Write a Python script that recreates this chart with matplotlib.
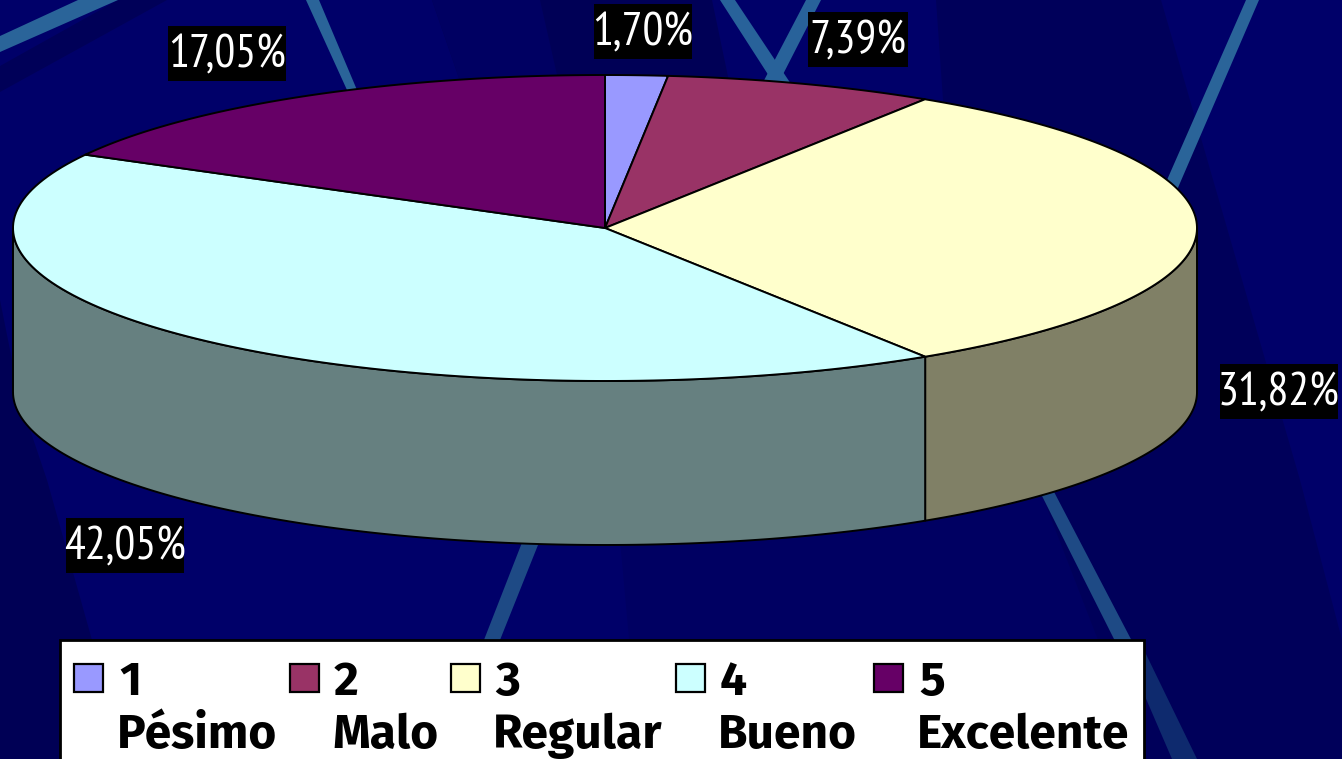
import warnings
import numpy as np
import matplotlib
matplotlib.use("Agg")
import matplotlib.pyplot as plt
from matplotlib.patches import Polygon, Rectangle

warnings.filterwarnings("ignore")

# --- data ---
categories = ["1\nPésimo", "2\nMalo", "3\nRegular", "4\nBueno", "5\nExcelente"]
values = [1.70, 7.39, 31.82, 42.05, 17.05]
value_labels = ["1,70%", "7,39%", "31,82%", "42,05%", "17,05%"]
colors = ["#9999FF", "#993366", "#FFFFCC", "#CCFFFF", "#660066"]
side_colors = ["#4C4C80", "#4D1A33", "#808066", "#668080", "#330033"]

# --- layout (pixels) ---
W, H = 1342, 759
cx, cy, rx, ry, depth = 605, 228, 592, 153, 164
label_boxes = [(594, 4, 98, 55), (808, 12, 100, 55), (1220, 364, 118, 55),
               (66, 518, 118, 55), (168, 26, 118, 55)]
legend_swatch_x = [74, 290, 451, 676, 874]
legend_text_x = [117, 332, 493, 718, 917]

fig = plt.figure(figsize=(W / 100, H / 100), dpi=100)
ax = fig.add_axes([0, 0, 1, 1])
ax.set_xlim(0, W)
ax.set_ylim(H, 0)
ax.axis("off")

# --- background ---
ax.add_patch(Rectangle((0, 0), W, H, fc="#000069", ec="none", zorder=0))
bg_regions = [
    ("#000056", [(432, 0), (712, 0), (735, 110), (470, 110)]),
    ("#00005A", [(936, 0), (1161, 0), (1300, 480), (1342, 640), (1342, 759), (1144, 759), (1000, 500), (950, 200)]),
    ("#000062", [(620, 540), (1040, 490), (1144, 759), (640, 759)]),
    ("#000055", [(0, 300), (20, 400), (47, 480), (92, 640), (60, 759), (0, 759)]),
    ("#000058", [(0, 66), (118, 0), (167, 0), (0, 92)]),
    ("#000062", [(540, 0), (432, 0), (470, 110), (565, 110)]),
]
for c, pts in bg_regions:
    ax.add_patch(Polygon(pts, closed=True, fc=c, ec="none", zorder=1))
streaks = [
    ("#2A6499", [(78, 0), (118, 0), (0, 52), (0, 36)]),
    ("#2A6499", [(306, 0), (319, 0), (357, 90), (347, 90)]),
    ("#28629A", [(720, 0), (735, 0), (795, 90), (778, 90)]),
    ("#28629A", [(806, 0), (821, 0), (775, 90), (759, 90)]),
    ("#2A6499", [(1246, 0), (1259, 0), (1177, 190), (1167, 180)]),
    ("#1E4A85", [(523, 540), (540, 540), (498, 645), (482, 645)]),
    ("#1E4A85", [(1039, 490), (1052, 488), (1134, 645), (1117, 645)]),
    ("#0E2A6E", [(1125, 650), (1144, 650), (1197, 759), (1172, 759)]),
]
for c, pts in streaks:
    ax.add_patch(Polygon(pts, closed=True, fc=c, ec="none", zorder=2))

# --- pie ---
fractions = np.array(values) / np.sum(values)
edges = np.concatenate([[0], np.cumsum(fractions)]) * 360.0


def rim(a0, a1, n=120):
    t = np.radians(np.linspace(a0, a1, n))
    return cx + rx * np.sin(t), cy - ry * np.cos(t)


for i in range(len(values)):
    a0, a1 = max(edges[i], 90), min(edges[i + 1], 270)
    if a1 > a0:
        x, y = rim(a0, a1)
        xs = np.concatenate([x, x[::-1]])
        ys = np.concatenate([y, (y + depth)[::-1]])
        ax.add_patch(Polygon(np.column_stack([xs, ys]), closed=True,
                             fc=side_colors[i], ec="black", lw=1.4,
                             joinstyle="round", zorder=3))
for i in range(len(values)):
    x, y = rim(edges[i], edges[i + 1])
    xs = np.concatenate([[cx], x])
    ys = np.concatenate([[cy], y])
    ax.add_patch(Polygon(np.column_stack([xs, ys]), closed=True,
                         fc=colors[i], ec="black", lw=1.4,
                         joinstyle="round", zorder=4))

# --- value labels ---
for lab, (bx, by, bw, bh) in zip(value_labels, label_boxes):
    ax.add_patch(Rectangle((bx, by), bw, bh, fc="black", ec="none", zorder=5))
    ax.text(bx + bw / 2, by + bh / 2 + 1, lab, color="white", fontsize=33.5,
            family=["PT Sans Narrow", "Lato"], ha="center", va="center", zorder=6)

# --- legend ---
ax.add_patch(Rectangle((60, 640), 1084, 130, fc="white", ec="black", lw=2, zorder=5))
for lab, c, sx, tx in zip(categories, colors, legend_swatch_x, legend_text_x):
    ax.add_patch(Rectangle((sx, 664), 29, 28, fc=c, ec="black", lw=1.6, zorder=6))
    num, name = lab.split("\n")
    ax.text(tx + 2, 695, num, color="black", fontsize=34.5, fontweight="bold",
            family=["Fira Sans", "Lato"], ha="left", va="baseline", zorder=6)
    ax.text(tx, 748, name, color="black", fontsize=34.5, fontweight="bold",
            family=["Fira Sans", "Lato"], ha="left", va="baseline", zorder=6)

fig.savefig("out.png", dpi=100)
